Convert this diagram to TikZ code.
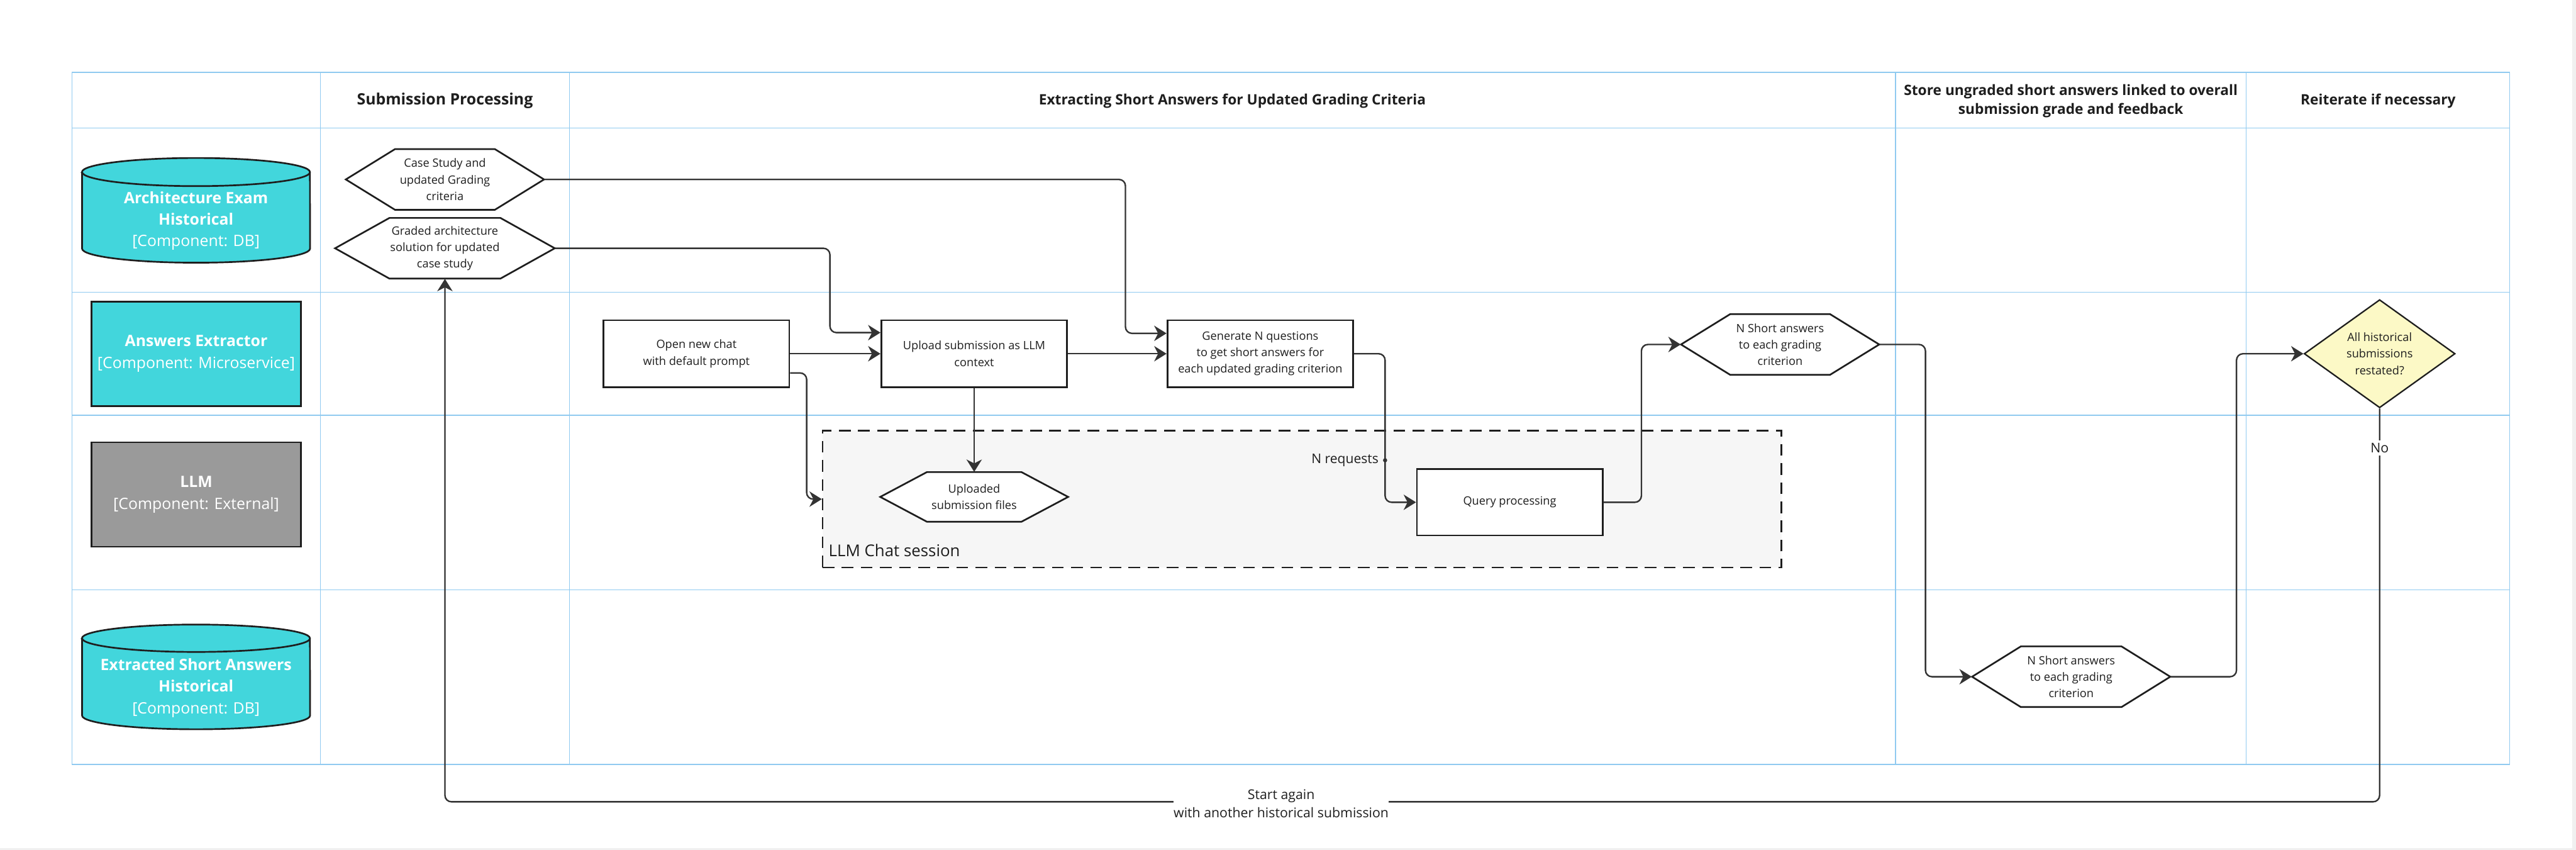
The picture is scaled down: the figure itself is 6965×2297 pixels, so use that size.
\documentclass[tikz,border=0pt]{standalone}
\usepackage{fontspec}
\setmainfont{Open Sans}
\usetikzlibrary{shapes.geometric,arrows.meta,calc}
\definecolor{gridc}{HTML}{90CAF0}
\definecolor{cyanfill}{HTML}{42D6DC}
\definecolor{grayfill}{HTML}{9A9A9A}
\definecolor{ink}{HTML}{1E1E1E}
\definecolor{linec}{HTML}{333333}
\definecolor{yel}{HTML}{FCF9C6}
\definecolor{groupfill}{HTML}{F6F6F6}
\pgfdeclarelayer{back}
\pgfdeclarelayer{mid}
\pgfsetlayers{back,mid,main}
\newcommand\hexat[7]{%
  \node[hexbox, minimum width=2*#4*0.01cm, minimum height=2*#5*0.01cm] (#1) at (#2,#3) {#7};
  \begin{pgfonlayer}{mid}
  \draw[hexline] (#2-#4,#3) -- (#2-#4+#6,#3-#5) -- (#2+#4-#6,#3-#5) -- (#2+#4,#3)
     -- (#2+#4-#6,#3+#5) -- (#2-#4+#6,#3+#5) -- cycle;
  \end{pgfonlayer}}
\newcommand\cylat[6]{% x1, x2, ytopcentre, ybotcentre, rx(cm), ry(cm)
  \draw[dbline] (#1,#3) -- (#1,#4) arc[start angle=180,end angle=360,x radius=#5cm,y radius=#6cm]
     -- (#2,#3) arc[start angle=0,end angle=180,x radius=#5cm,y radius=#6cm] -- cycle;
  \draw[dbline,fill=none] (#1,#3) arc[start angle=180,end angle=360,x radius=#5cm,y radius=#6cm];}
\begin{document}
\begin{tikzpicture}[x=0.01cm,y=-0.01cm,
  gridh/.style={draw=gridc,line width=0.85pt},
  gridv/.style={draw=gridc,line width=0.55pt},
  hdr/.style={font=\bfseries\fontsize{11}{14.4}\selectfont,align=center,text=ink},
  body/.style={font=\fontsize{8.8}{12.7}\selectfont,align=center,text=ink},
  procbox/.style={body,draw=ink,line width=1.3pt,fill=white,minimum width=5.02cm,minimum height=1.81cm,inner sep=0pt},
  hexbox/.style={body,inner sep=0pt},
  hexline/.style={draw=ink,line width=1.3pt,fill=white,line join=miter},
  dbline/.style={draw=ink,line width=1.3pt,fill=cyanfill},
  lanetext/.style={text=white,font=\fontsize{12}{16.6}\selectfont,align=center},
  lanebox/.style={lanetext,draw=ink,line width=1.3pt,minimum width=5.65cm,minimum height=2.82cm,inner sep=0pt},
  conn/.style={draw=linec,line width=1.15pt,rounded corners=5pt,-{Stealth[length=9.5pt,width=11.8pt,inset=3pt]}},
  lbl/.style={font=\fontsize{10.3}{14.2}\selectfont,align=center,text=ink,fill=white,inner sep=2pt},
  groupbox/.style={draw=ink,line width=1.25pt,dash pattern=on 9pt off 5.7pt,fill=groupfill,minimum width=25.91cm,minimum height=3.70cm,inner sep=0pt}
]
\useasboundingbox (0,0) rectangle (6965,2297);
\begin{pgfonlayer}{back}
\fill[white] (0,0) rectangle (6965,2297);
\fill[black!6] (6954,0) rectangle (6965,2297);
\fill[black!6] (0,2292) rectangle (6965,2297);
% grid
\foreach \yy in {196,346,790,1122,1594,2066} \draw[gridh] (194,\yy) -- (6786,\yy);
\foreach \xx in {194,867,1539,5125,6073,6786} \draw[gridv] (\xx,196) -- (\xx,2066);
% group
\node[groupbox] (grp) at (3520.5,1349) {};
\end{pgfonlayer}
\node[font=\fontsize{12.5}{15}\selectfont,text=ink,anchor=west,inner sep=0pt] (grplabel) at (2240,1488) {LLM Chat session};

% headers
\node[hdr,font=\bfseries\fontsize{12}{15}\selectfont] (hA) at (1203,273) {Submission Processing};
\node[hdr] (hB) at (3332,273) {Extracting Short Answers for Updated Grading Criteria};
\node[hdr] (hC) at (5599,273) {Store ungraded short answers linked to overall\\submission grade and feedback};
\node[hdr] (hD) at (6430,273) {Reiterate if necessary};

% lane components
\begin{pgfonlayer}{mid}
\cylat{222}{838}{465}{672}{3.08}{0.38}
\cylat{222}{838}{1725}{1934}{3.08}{0.37}
\end{pgfonlayer}
\node[lanetext] (db1) at (530,597) {\textbf{Architecture Exam}\\\textbf{Historical}\\{}[Component: DB]};
\node[lanebox,fill=cyanfill] (ae) at (530.5,956) {\textbf{Answers Extractor}\\{}[Component: Microservice]};
\node[lanebox,fill=grayfill] (llm) at (530.5,1336.5) {\textbf{LLM}\\{}[Component: External]};
\node[lanetext] (db2) at (530,1859) {\textbf{Extracted Short Answers}\\\textbf{Historical}\\{}[Component: DB]};

% hexagons
\hexat{h1}{1203}{485}{268}{82}{133}{Case Study and\\updated Grading\\criteria}
\hexat{h2}{1203}{671}{297}{82}{147}{Graded architecture\\solution for updated\\case study}
\hexat{uplhex}{2634}{1343}{254}{67}{126}{Uploaded\\submission files}
\hexat{nsa1}{4813}{931}{268}{82}{133}{N Short answers\\to each grading\\criterion}
\hexat{nsa2}{5600}{1829}{268}{82}{132}{N Short answers\\to each grading\\criterion}

% process boxes
\node[procbox] (open) at (1883,956) {Open new chat\\with default prompt};
\node[procbox] (upload) at (2634,956) {Upload submission as LLM\\context};
\node[procbox] (gen) at (3407.5,956) {Generate N questions\\to get short answers for\\each updated grading criterion};
\node[procbox,minimum height=1.79cm] (query) at (4082,1357.5) {Query processing};

% decision
\node[diamond,body,draw=ink,line width=1.1pt,fill=yel,minimum width=4.08cm,minimum height=2.82cm,inner sep=0pt] (dia) at (6434,956) {All historical\\submissions\\restated?};

% connectors
\draw[conn] (h1.east) -| (3043,901) -- ([yshift=0.55cm]gen.west);
\draw[conn] (h2.east) -| (2244,899) -- ([yshift=0.57cm]upload.west);
\draw[conn] (open.east) -- (upload.west);
\draw[conn] (upload.east) -- (gen.west);
\draw[conn] ([yshift=-0.52cm]open.east) -| (2181,1349) -- (grp.west);
\draw[conn] (upload.south) -- (uplhex.north);
\draw[conn] (gen.east) -| (3745,1357.5) -- (query.west);
\node[circle,fill=linec,inner sep=0pt,minimum size=3.2pt] (nreqdot) at (3745,1244) {};
\node[font=\fontsize{10.2}{12}\selectfont,text=ink,anchor=east,inner sep=0pt] (nreq) at (3728,1244) {N requests};
\draw[conn] (query.east) -| (4438,931) -- (nsa1.west);
\draw[conn] (nsa1.east) -| (5206,1829) -- (nsa2.west);
\draw[conn] (nsa2.east) -| (6047,956) -- (dia.west);
\draw[conn] (dia.south) -- (6434,2167) -| (h2.south);
\node[lbl] (nolbl) at (6434,1211) {No};
\node[lbl,inner sep=0pt] (again) at (3464,2172) {Start again\\with another historical submission};
\end{tikzpicture}
\end{document}
